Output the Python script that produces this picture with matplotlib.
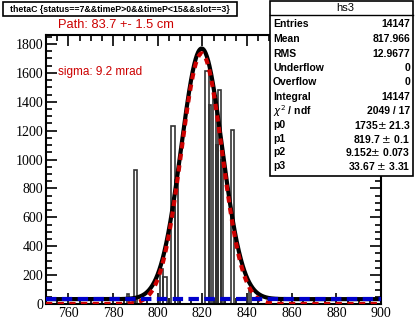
import numpy as np
import matplotlib
matplotlib.use('Agg')
import matplotlib.pyplot as plt
from matplotlib.patches import Rectangle

# histogramme hs3 : segments non vides (debut, fin, contenu)
seg_lo = [786.3, 789.3, 801.0, 802.6, 805.9, 807.9, 821.1, 823.0, 824.8, 826.1, 827.1, 828.4, 833.0, 840.8]
seg_hi = [787.3, 790.6, 802.6, 804.0, 807.9, 809.0, 823.0, 824.1, 826.1, 827.1, 828.4, 829.1, 834.4, 842.0]
seg_val = [70, 930, 240, 190, 1230, 860, 1615, 1380, 1440, 1100, 1480, 1000, 1205, 97]

# parametres du fit (gauss + constante)
p0, p1, p2, p3 = 1735, 819.7, 9.152, 33.67

stat_labels = ['Entries', 'Mean', 'RMS', 'Underflow', 'Overflow', 'Integral',
               r'$\chi^2$ / ndf', 'p0', 'p1', 'p2', 'p3']
stat_values = ['14147', '817.966', '12.9677', '0', '0', '14147', '2049 / 17',
               '1735$\\pm$ 21.3', '819.7 $\\pm$ 0.1', '9.152$\\pm$ 0.073', '33.67 $\\pm$ 3.31']

titre = 'thetaC {status==7&&timeP>0&&timeP<15&&slot==3}'

# construire les bords du histo (zeros entre les segments)
edges = [750.0]
vals = []
for lo, hi, v in zip(seg_lo, seg_hi, seg_val):
    edges.append(lo); vals.append(0)
    edges.append(hi); vals.append(v)
edges.append(900.0); vals.append(0)

W, H = 415, 323
fig = plt.figure(figsize=(W / 100, H / 100), dpi=100)
ax = fig.add_axes([46 / W, 1 - 304 / H, (381 - 46) / W, (304 - 35) / H])

ax.stairs(vals, edges, color='#333333', lw=1.2, zorder=2)

x = np.linspace(750, 900, 800)
gaus = p0 * np.exp(-0.5 * ((x - p1) / p2) ** 2)
ax.plot(x, gaus + p3, color='black', lw=3, zorder=3)
ax.plot(x, gaus, color='#cc0000', lw=3, ls=(0, (1.5, 1.3)), zorder=4)
ax.plot([750, 900], [p3, p3], color='#0000cc', lw=3, ls=(0, (2.5, 1.3)), zorder=5)

ax.set_xlim(750, 900)
ax.set_ylim(0, 1862)
ax.set_xticks(np.arange(760, 901, 20))
ax.set_xticks(np.arange(750, 901, 5), minor=True)
ax.set_yticks(np.arange(0, 1801, 200))
ax.set_yticks(np.arange(0, 1851, 50), minor=True)
ax.tick_params(which='both', direction='in', top=True, right=True, width=1.2,
               labelsize=10, labelfontfamily='Liberation Serif', pad=2)
ax.tick_params(which='major', length=8)
ax.tick_params(which='minor', length=4)
for s in ax.spines.values():
    s.set_linewidth(1.5)

rouge = '#cc0000'
fig.text(58 / W, 1 - 25 / H, 'Path: 83.7 +- 1.5 cm', color=rouge, fontsize=9.3,
         family='Liberation Sans', va='center', ha='left')
fig.text(58 / W, 1 - 72 / H, 'sigma: 9.2 mrad', color=rouge, fontsize=8.5,
         family='Liberation Sans', va='center', ha='left')

# boite du titre
fig.patches.append(Rectangle((3 / W, 1 - 16 / H), (237 - 3) / W, 14 / H, transform=fig.transFigure,
                             fill=True, facecolor='white', edgecolor='black', lw=1.2))
fig.text(120 / W, 1 - 9 / H, titre, fontsize=6.3, weight='bold', family='Liberation Sans',
         ha='center', va='center')

# boite de stats
fig.patches.append(Rectangle((270 / W, 1 - 176 / H), (413 - 270) / W, 175 / H, transform=fig.transFigure,
                             fill=True, facecolor='white', edgecolor='black', lw=1.2, zorder=10))
fig.add_artist(plt.Line2D([270 / W, 413 / W], [1 - 15 / H, 1 - 15 / H], transform=fig.transFigure,
                          color='black', lw=1, zorder=11))
fig.text(345 / W, 1 - 8 / H, 'hs3', fontsize=8, family='Liberation Sans', ha='center', va='center', zorder=12)
ys = [24, 39, 53.7, 68, 82, 97, 111, 125, 138.5, 152, 166]
for lab, val, yy in zip(stat_labels, stat_values, ys):
    fig.text(273 / W, 1 - yy / H, lab, fontsize=7.5, family='Liberation Sans', weight='semibold',
             ha='left', va='center', zorder=12)
    fig.text(410 / W, 1 - yy / H, val, fontsize=7.5, family='Liberation Sans', weight='semibold',
             ha='right', va='center', zorder=12)

fig.savefig('out.png', dpi=100)
